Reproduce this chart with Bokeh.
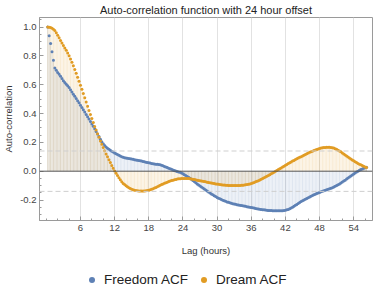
from bokeh.plotting import figure
from bokeh.layouts import column
from bokeh.models import (Range1d, Span, Legend, LegendItem, FixedTicker,
                          SingleIntervalTicker, NumeralTickFormatter)
from bokeh.embed import file_html
from bokeh.resources import INLINE

LAG_STEP = 0.25  # hours between points (first point at 0.25 h)

freedom_acf = [
    1.000, 0.940, 0.885, 0.828,
    0.770, 0.715, 0.700, 0.685,
    0.672, 0.658, 0.643, 0.628,
    0.615, 0.603, 0.592, 0.580,
    0.565, 0.550, 0.534, 0.519,
    0.504, 0.489, 0.474, 0.458,
    0.442, 0.426, 0.410, 0.394,
    0.378, 0.362, 0.345, 0.328,
    0.311, 0.294, 0.276, 0.258,
    0.240, 0.222, 0.205, 0.190,
    0.178, 0.168, 0.159, 0.152,
    0.145, 0.139, 0.133, 0.127,
    0.121, 0.115, 0.110, 0.105,
    0.101, 0.097, 0.094, 0.092,
    0.090, 0.088, 0.086, 0.084,
    0.082, 0.080, 0.078, 0.076,
    0.074, 0.072, 0.070, 0.067,
    0.065, 0.062, 0.060, 0.058,
    0.056, 0.054, 0.052, 0.050,
    0.049, 0.048, 0.046, 0.044,
    0.041, 0.037, 0.033, 0.029,
    0.025, 0.021, 0.017, 0.013,
    0.009, 0.005, 0.001, -0.003,
    -0.005, -0.008, -0.013, -0.018,
    -0.024, -0.030, -0.036, -0.042,
    -0.049, -0.056, -0.064, -0.072,
    -0.080, -0.088, -0.096, -0.103,
    -0.110, -0.117, -0.124, -0.131,
    -0.138, -0.145, -0.152, -0.158,
    -0.164, -0.170, -0.176, -0.182,
    -0.187, -0.192, -0.197, -0.201,
    -0.205, -0.209, -0.213, -0.216,
    -0.219, -0.222, -0.225, -0.227,
    -0.230, -0.232, -0.234, -0.236,
    -0.238, -0.240, -0.242, -0.244,
    -0.246, -0.248, -0.250, -0.252,
    -0.254, -0.256, -0.258, -0.260,
    -0.262, -0.264, -0.266, -0.267,
    -0.268, -0.270, -0.271, -0.272,
    -0.272, -0.273, -0.274, -0.274,
    -0.275, -0.275, -0.275, -0.275,
    -0.275, -0.274, -0.273, -0.271,
    -0.268, -0.265, -0.261, -0.256,
    -0.250, -0.244, -0.237, -0.231,
    -0.224, -0.218, -0.211, -0.205,
    -0.199, -0.194, -0.189, -0.184,
    -0.179, -0.174, -0.169, -0.164,
    -0.160, -0.155, -0.151, -0.147,
    -0.143, -0.139, -0.135, -0.132,
    -0.128, -0.125, -0.121, -0.118,
    -0.114, -0.110, -0.105, -0.100,
    -0.094, -0.088, -0.082, -0.075,
    -0.068, -0.062, -0.055, -0.048,
    -0.041, -0.034, -0.027, -0.020,
    -0.013, -0.006, 0.000, 0.006,
    0.011, 0.016, 0.020, 0.024,
    0.027,
]

dream_acf = [
    1.000, 0.999, 0.996, 0.991,
    0.984, 0.975, 0.960, 0.943,
    0.925, 0.907, 0.889, 0.871,
    0.855, 0.838, 0.820, 0.800,
    0.778, 0.755, 0.731, 0.706,
    0.679, 0.652, 0.624, 0.596,
    0.568, 0.539, 0.510, 0.480,
    0.451, 0.421, 0.393, 0.365,
    0.337, 0.310, 0.285, 0.260,
    0.235, 0.210, 0.187, 0.165,
    0.142, 0.120, 0.100, 0.080,
    0.060, 0.040, 0.020, 0.001,
    -0.015, -0.030, -0.045, -0.060,
    -0.073, -0.085, -0.093, -0.101,
    -0.108, -0.115, -0.120, -0.125,
    -0.129, -0.132, -0.134, -0.136,
    -0.137, -0.138, -0.138, -0.138,
    -0.137, -0.136, -0.134, -0.132,
    -0.129, -0.125, -0.121, -0.117,
    -0.113, -0.108, -0.103, -0.098,
    -0.093, -0.088, -0.084, -0.080,
    -0.076, -0.072, -0.068, -0.065,
    -0.062, -0.059, -0.057, -0.055,
    -0.053, -0.052, -0.051, -0.050,
    -0.050, -0.050, -0.050, -0.051,
    -0.052, -0.054, -0.056, -0.058,
    -0.060, -0.062, -0.064, -0.066,
    -0.068, -0.070, -0.072, -0.074,
    -0.076, -0.078, -0.080, -0.082,
    -0.084, -0.086, -0.088, -0.089,
    -0.091, -0.092, -0.094, -0.095,
    -0.096, -0.097, -0.098, -0.099,
    -0.100, -0.100, -0.100, -0.100,
    -0.100, -0.100, -0.100, -0.099,
    -0.098, -0.097, -0.096, -0.094,
    -0.092, -0.090, -0.088, -0.085,
    -0.082, -0.078, -0.074, -0.070,
    -0.066, -0.061, -0.056, -0.050,
    -0.045, -0.040, -0.035, -0.030,
    -0.024, -0.018, -0.013, -0.007,
    -0.001, 0.005, 0.011, 0.017,
    0.023, 0.029, 0.035, 0.041,
    0.047, 0.053, 0.059, 0.064,
    0.070, 0.075, 0.081, 0.086,
    0.091, 0.096, 0.101, 0.106,
    0.111, 0.116, 0.121, 0.126,
    0.131, 0.135, 0.139, 0.143,
    0.147, 0.150, 0.154, 0.157,
    0.160, 0.162, 0.164, 0.165,
    0.166, 0.166, 0.166, 0.165,
    0.163, 0.160, 0.156, 0.152,
    0.146, 0.140, 0.134, 0.127,
    0.120, 0.113, 0.105, 0.098,
    0.091, 0.084, 0.078, 0.072,
    0.066, 0.060, 0.054, 0.049,
    0.044, 0.039, 0.034, 0.029,
    0.025,
]

lags = [LAG_STEP * (i + 1) for i in range(len(dream_acf))]
zeros = [0.0] * len(lags)

series_names = ["Freedom ACF", "Dream ACF"]
series_colors = ["#5E81B5", "#E19C24"]
conf_band = [0.14, -0.14]
x_ticks = [6, 12, 18, 24, 30, 36, 42, 48, 54]
x_minor_ticks = list(range(0, 58, 2))
y_tick_step = 0.2

FONT = "Liberation Sans"

p = figure(frame_width=333, frame_height=203, output_backend="svg",
           toolbar_location=None,
           x_range=Range1d(-1.2, 57.3), y_range=Range1d(-0.342, 1.066),
           min_border_left=0, min_border_right=1, min_border_top=0,
           min_border_bottom=49)

p.title.text = "Auto-correlation function with 24 hour offset"
p.title.text_font = FONT
p.title.text_font_size = "11px"
p.title.text_font_style = "normal"
p.title.text_color = "#222222"
p.title.align = "center"
p.title.standoff = 3

p.outline_line_color = "#9a9a9a"
p.outline_line_width = 1
p.background_fill_color = "white"
p.border_fill_color = "white"

xt = FixedTicker(ticks=x_ticks, minor_ticks=x_minor_ticks)
yt = SingleIntervalTicker(interval=y_tick_step, num_minor_ticks=4)

p.xaxis.ticker = xt
p.yaxis.ticker = yt
p.yaxis.formatter = NumeralTickFormatter(format="0.0")
for ax in (p.xaxis[0], p.yaxis[0]):
    ax.axis_line_color = "#9a9a9a"
    ax.major_tick_line_color = "#9a9a9a"
    ax.minor_tick_line_color = "#9a9a9a"
    ax.major_tick_in = 4
    ax.major_tick_out = 0
    ax.minor_tick_in = 2
    ax.minor_tick_out = 0
    ax.major_label_text_font = FONT
    ax.major_label_text_font_size = "9.5px"
    ax.major_label_text_color = "#444444"
    ax.axis_label_text_font = FONT
    ax.axis_label_text_font_size = "9.5px"
    ax.axis_label_text_font_style = "normal"
    ax.axis_label_text_color = "#333333"

p.xaxis.axis_label = "Lag (hours)"
p.xaxis.major_label_standoff = 4
p.xaxis.axis_label_standoff = 11
p.yaxis.axis_label = "Auto-correlation"
p.yaxis.major_label_standoff = 3
p.yaxis.axis_label_standoff = 3

p.xgrid.ticker = FixedTicker(ticks=x_ticks)
p.xgrid.grid_line_color = "#e2e2e2"
p.ygrid.grid_line_color = None

for c in conf_band:
    p.add_layout(Span(location=c, dimension="width", line_color="#cfcfcf",
                      line_dash="5 3", line_width=1))

# filling to axis (stems)
for vals, col in zip([freedom_acf, dream_acf], series_colors):
    p.segment(x0=lags, y0=zeros, x1=lags, y1=vals, line_color=col,
              line_alpha=0.2, line_width=1)

p.add_layout(Span(location=0, dimension="width", line_color="#555555",
                  line_width=1))

for vals, col in zip([freedom_acf, dream_acf], series_colors):
    p.scatter(lags, vals, size=3.0, fill_color=col, line_color=None)

# legend strip below the plot (separate small figure, same series)
lg = figure(width=366, height=20, output_backend="svg", toolbar_location=None,
            x_range=Range1d(0, 1), y_range=Range1d(10, 11),
            min_border_left=0, min_border_right=0, min_border_top=0,
            min_border_bottom=0)
lg.axis.visible = False
lg.grid.visible = False
lg.outline_line_color = None
lg.background_fill_color = "white"
lg.border_fill_color = "white"

legend_items = []
for name, vals, col in zip(series_names, [freedom_acf, dream_acf], series_colors):
    r = lg.scatter(lags, vals, size=6, fill_color=col, line_color=None)
    legend_items.append(LegendItem(label=name, renderers=[r]))

legend = Legend(items=legend_items, orientation="horizontal",
                location=(45, 2), border_line_color=None,
                background_fill_alpha=0, label_text_font=FONT,
                label_text_font_size="13.5px", label_text_color="#222222",
                label_height=12, label_width=10,
                glyph_width=15, glyph_height=15, spacing=8, padding=0,
                margin=0, label_standoff=5)
lg.add_layout(legend, "center")

layout = column(p, lg, spacing=0)

open("out.html", "w").write(file_html(layout, INLINE))
